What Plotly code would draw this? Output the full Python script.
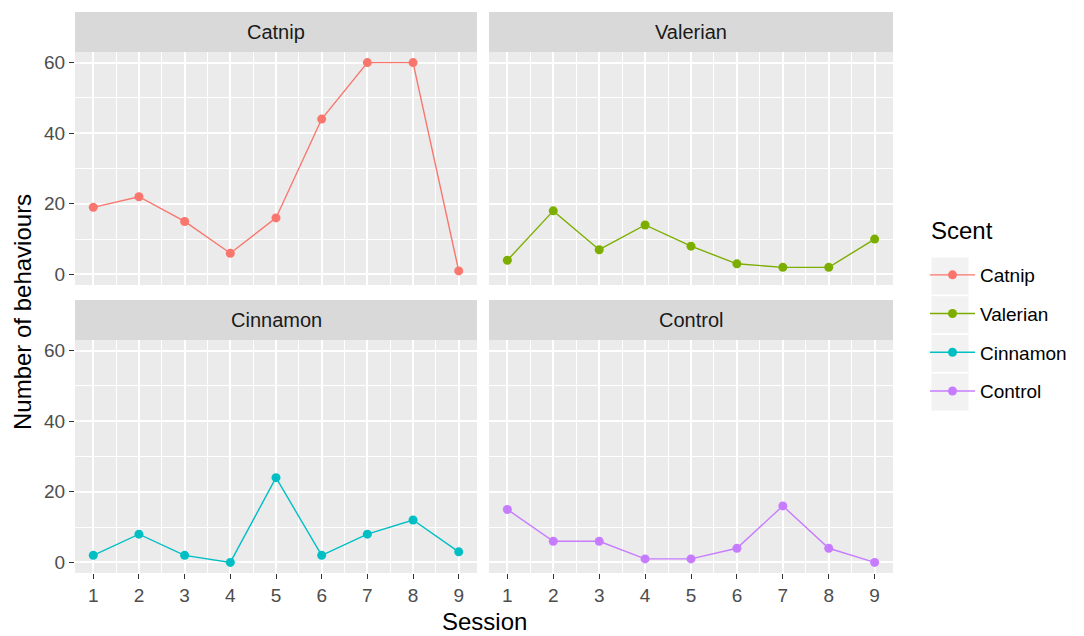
import plotly.graph_objects as go

sessions = [1, 2, 3, 4, 5, 6, 7, 8, 9]
scents = ["Catnip", "Valerian", "Cinnamon", "Control"]
catnip = [19, 22, 15, 6, 16, 44, 60, 60, 1]
valerian = [4, 18, 7, 14, 8, 3, 2, 2, 10]
cinnamon = [2, 8, 2, 0, 24, 2, 8, 12, 3]
control = [15, 6, 6, 1, 1, 4, 16, 4, 0]
colors = ["#F8766D", "#7CAE00", "#00BFC4", "#C77CFF"]
y_ticks = [0, 20, 40, 60]

series = [catnip, valerian, cinnamon, control]

W, H = 1084, 636
FONT = "Liberation Sans, Arial, sans-serif"

# panel pixel boxes (left, right, top, bottom)
panels = [
    (75, 477, 52, 285),
    (489, 893, 52, 285),
    (75, 477, 340, 573),
    (489, 893, 340, 573),
]
strip_h = 40

fig = go.Figure()
shapes = []
annotations = []

for i, (name, vals, col) in enumerate(zip(scents, series, colors)):
    ax = "" if i == 0 else str(i + 1)
    fig.add_trace(go.Scatter(
        x=sessions, y=vals, name=name, mode="lines+markers",
        line=dict(color=col, width=1.4),
        marker=dict(color=col, size=9),
        xaxis="x" + ax, yaxis="y" + ax,
        legendgroup=name,
    ))

layout = dict(
    width=W, height=H,
    margin=dict(l=0, r=0, t=0, b=0),
    paper_bgcolor="white",
    plot_bgcolor="#EBEBEB",
    font=dict(family=FONT, size=20, color="#4D4D4D"),
    showlegend=True,
)

for i, (l, r, t, b) in enumerate(panels):
    ax = "" if i == 0 else str(i + 1)
    bottom_row = i >= 2
    left_col = i % 2 == 0
    xd = [l / W, r / W]
    yd = [1 - b / H, 1 - t / H]
    layout["xaxis" + ax] = dict(
        domain=xd, range=[0.6, 9.4], anchor="y" + ax,
        tickmode="array", tickvals=sessions, ticktext=[str(s) for s in sessions],
        showticklabels=bottom_row,
        ticks="outside" if bottom_row else "", ticklen=5, tickwidth=1.2, tickcolor="#333333",
        tickfont=dict(size=19, color="#4D4D4D", family=FONT),
        showgrid=True, gridcolor="white", gridwidth=1.5,
        minor=dict(dtick=0.5, tick0=0.5, showgrid=True, gridcolor="white", gridwidth=0.8, ticks=""),
        zeroline=False, showline=False, fixedrange=True,
    )
    layout["yaxis" + ax] = dict(
        domain=yd, range=[-3, 63], anchor="x" + ax,
        tickmode="array", tickvals=y_ticks, ticktext=[str(v) for v in y_ticks],
        showticklabels=left_col,
        ticks="outside" if left_col else "", ticklen=5, tickwidth=1.2, tickcolor="#333333",
        tickfont=dict(size=19, color="#4D4D4D", family=FONT),
        showgrid=True, gridcolor="white", gridwidth=1.5,
        minor=dict(dtick=10, tick0=0, showgrid=True, gridcolor="white", gridwidth=0.8, ticks=""),
        zeroline=False, showline=False, fixedrange=True,
    )
    # strip
    st = t - strip_h
    shapes.append(dict(type="rect", xref="paper", yref="paper",
                       x0=l / W, x1=r / W, y0=1 - t / H, y1=1 - st / H,
                       fillcolor="#D9D9D9", line=dict(width=0), layer="below"))
    annotations.append(dict(text=scents[i], xref="paper", yref="paper",
                            x=(l + r) / 2 / W, y=1 - (st + strip_h / 2) / H,
                            xanchor="center", yanchor="middle", showarrow=False,
                            font=dict(size=20, color="#1A1A1A", family=FONT)))

# legend key backgrounds (theme decoration)
key_centers = [276, 314.7, 353.4, 392.1]
for yc in key_centers:
    shapes.append(dict(type="rect", xref="paper", yref="paper",
                       x0=931 / W, x1=969 / W, y0=1 - (yc + 19) / H, y1=1 - (yc - 19) / H,
                       fillcolor="#F2F2F2", line=dict(color="white", width=1), layer="below"))

annotations.append(dict(text="Session", xref="paper", yref="paper",
                        x=484 / W, y=1 - 621 / H, xanchor="center", yanchor="middle",
                        showarrow=False, font=dict(size=24, color="black", family=FONT)))
annotations.append(dict(text="Number of behaviours", xref="paper", yref="paper",
                        x=22 / W, y=1 - 312 / H, xanchor="center", yanchor="middle",
                        textangle=-90, showarrow=False,
                        font=dict(size=24, color="black", family=FONT)))
annotations.append(dict(text="Scent", xref="paper", yref="paper",
                        x=929 / W, y=1 - 231 / H, xanchor="left", yanchor="middle",
                        showarrow=False, font=dict(size=24, color="black", family=FONT)))

layout["shapes"] = shapes
layout["annotations"] = annotations
layout["legend"] = dict(
    font=dict(size=19, color="black", family=FONT),
    x=925 / W, y=1 - 256 / H, xanchor="left", yanchor="top",
    bgcolor="rgba(0,0,0,0)", tracegroupgap=11, itemwidth=45,
)

fig.update_layout(**layout)
fig.write_html("out.html")
